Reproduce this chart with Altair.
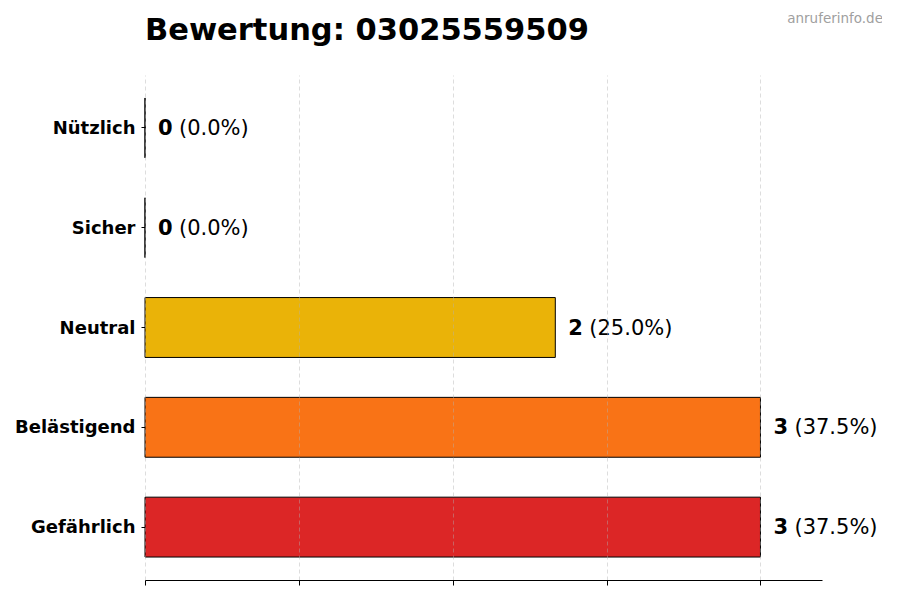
import altair as alt
import pandas as pd

categories = ["Nützlich", "Sicher", "Neutral", "Belästigend", "Gefährlich"]
counts = [0, 0, 2, 3, 3]
percents = ["(0.0%)", "(0.0%)", "(25.0%)", "(37.5%)", "(37.5%)"]
colors = ["#16a34a", "#2563eb", "#eab308", "#f97316", "#dc2626"]
x_ticks = [0, 0.75, 1.5, 2.25, 3]
title_text = "Bewertung: 03025559509"
watermark_text = "anruferinfo.de"

df = pd.DataFrame({
    "cat": categories,
    "val": counts,
    "valstr": [str(v) for v in counts],
    "pct": percents,
})

FONT = "DejaVu Sans"

y_enc = alt.Y(
    "cat:N",
    sort=categories,
    title=None,
    scale=alt.Scale(paddingInner=0.4, paddingOuter=0.23),
    axis=alt.Axis(
        domain=False, grid=False, ticks=True, tickSize=4, tickColor="black",
        labelFont=FONT, labelFontSize=18, labelFontWeight="bold",
        labelColor="black", labelPadding=6, labelOffset=1,
    ),
)
x_enc = alt.X(
    "val:Q",
    title=None,
    scale=alt.Scale(domain=[0, 3.3], nice=False, zero=True),
    axis=alt.Axis(
        values=x_ticks, labels=False, domain=True, domainColor="black",
        domainWidth=1, ticks=True, tickColor="black", tickSize=5,
        grid=True, gridColor="#b0b0b0", gridOpacity=0.55, gridDash=[4, 3],
        gridWidth=0.8, zindex=1,
    ),
)

base = alt.Chart(df)

bars = base.mark_bar(stroke="black", strokeWidth=1).encode(
    y=y_enc,
    x=x_enc,
    color=alt.Color("cat:N", scale=alt.Scale(domain=categories, range=colors), legend=None),
)

val_text = base.mark_text(
    align="left", baseline="middle", dx=13, dy=1, font=FONT, fontSize=21,
    fontWeight="bold", color="black",
).encode(y=alt.Y("cat:N", sort=categories), x="val:Q", text="valstr:N")

pct_text = base.mark_text(
    align="left", baseline="middle", dx=34, dy=1, font=FONT, fontSize=21,
    color="black",
).encode(y=alt.Y("cat:N", sort=categories), x="val:Q", text="pct:N")

title = alt.Chart(pd.DataFrame({"t": [title_text]})).mark_text(
    align="left", baseline="alphabetic", font=FONT, fontSize=30.5,
    fontWeight="bold", color="black",
).encode(text="t:N", x=alt.value(0), y=alt.value(-35))

watermark = alt.Chart(pd.DataFrame({"t": [watermark_text]})).mark_text(
    align="right", baseline="alphabetic", font=FONT, fontSize=13.5, color="#a0a0a0",
).encode(text="t:N", x=alt.value(738), y=alt.value(-52))

chart = alt.layer(bars, val_text, pct_text, title, watermark).properties(
    width=677,
    height=505,
    autosize="none",
    padding={"left": 137, "top": 67, "right": 60, "bottom": 8},
).configure_view(stroke=None)

chart.save("out.html", embed_options={"renderer": "svg", "actions": False})
